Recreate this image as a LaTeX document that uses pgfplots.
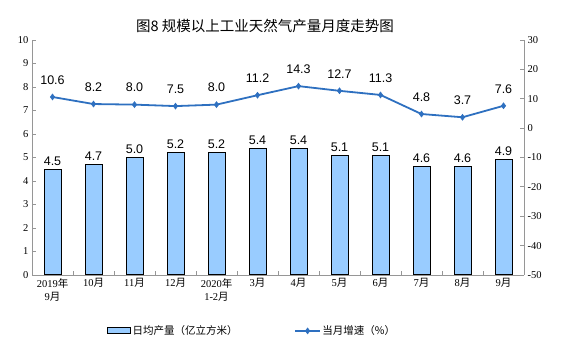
\documentclass[border=0pt]{standalone}
\usepackage{pgfplots}
\pgfplotsset{compat=1.18}
\usepackage{fontspec}
\setmainfont{Liberation Serif}
\newfontfamily\cjk{Noto Sans CJK SC}
\newfontfamily\arial{Liberation Sans}
\definecolor{barblue}{RGB}{153,204,255}
\definecolor{lineblue}{RGB}{46,112,192}
\definecolor{axgray}{RGB}{150,150,150}
\begin{document}
\begin{tikzpicture}
\useasboundingbox (0,0) rectangle (563pt,362pt);
\node[font=\cjk\fontsize{14.5}{16}\selectfont] at (265pt,336pt) {图8\ 规模以上工业天然气产量月度走势图};
\begin{axis}[
  at={(32pt,87pt)}, anchor=south west, scale only axis,
  width=492pt, height=235pt,
  xmin=-0.5, xmax=11.5, ymin=0, ymax=10,
  axis x line*=bottom, axis y line*=left,
  axis line style={axgray, line width=0.8pt},
  every tick/.style={axgray, line width=0.8pt},
  tick align=inside,
  ytick={0,1,...,10},
  xtick={0,...,11},
  major x tick style={draw=none},
  minor xtick={0.5,1.5,...,10.5},
  minor tick length=4pt, major tick length=4pt,
  xticklabels={{2019{\cjk 年}\\9{\cjk 月}},{10{\cjk 月}},{11{\cjk 月}},{12{\cjk 月}},{2020{\cjk 年}\\1-2{\cjk 月}},{3{\cjk 月}},{4{\cjk 月}},{5{\cjk 月}},{6{\cjk 月}},{7{\cjk 月}},{8{\cjk 月}},{9{\cjk 月}}},
  xticklabel style={align=center, font=\fontsize{10.5}{13}\selectfont},
  yticklabel style={font=\fontsize{10.5}{12}\selectfont},
  /pgf/number format/assume math mode=true,
]
\addplot[ybar, bar width=17pt, fill=barblue, draw=black, line width=1pt,
  nodes near coords,
  nodes near coords style={font=\arial\fontsize{12.5}{14}\selectfont, black, /pgf/number format/.cd, fixed, fixed zerofill, precision=1, assume math mode=true},
] coordinates {(0,4.5) (1,4.7) (2,5.0) (3,5.2) (4,5.2) (5,5.4) (6,5.4) (7,5.1) (8,5.1) (9,4.6) (10,4.6) (11,4.9)};
\end{axis}
\begin{axis}[
  at={(32pt,87pt)}, anchor=south west, scale only axis,
  width=492pt, height=235pt,
  xmin=-0.5, xmax=11.5, ymin=-50, ymax=30,
  axis y line*=right, axis x line=none,
  axis line style={axgray, line width=0.8pt},
  every tick/.style={axgray, line width=0.8pt},
  tick align=inside, major tick length=4pt,
  ytick={-50,-40,...,30},
  yticklabel style={font=\fontsize{10.5}{12}\selectfont},
  /pgf/number format/assume math mode=true,
  legend columns=2,
  legend style={draw=none, fill=none, at={(0.447,-0.238)}, anchor=center,
    font=\cjk\fontsize{10.5}{12}\selectfont,
    /tikz/every even column/.append style={column sep=55pt},
    nodes={inner sep=1.5pt}},
]
\addlegendimage{legend image code/.code={\draw[fill=barblue, draw=black, line width=1pt] (0pt,-3pt) rectangle (23pt,3pt);}}
\addlegendentry{日均产量（亿立方米）}
\addplot[lineblue, line width=1.8pt, mark=diamond*, mark size=3pt,
  mark options={fill=lineblue, draw=lineblue, line width=0.5pt},
  nodes near coords,
  nodes near coords style={font=\arial\fontsize{12.5}{14}\selectfont, black, yshift=9pt, /pgf/number format/.cd, fixed, fixed zerofill, precision=1, assume math mode=true},
  legend image code/.code={\draw[mark repeat=2, mark phase=2] plot coordinates {(0pt,0pt) (12.5pt,0pt) (25pt,0pt)};},
] coordinates {(0,10.6) (1,8.2) (2,8.0) (3,7.5) (4,8.0) (5,11.2) (6,14.3) (7,12.7) (8,11.3) (9,4.8) (10,3.7) (11,7.6)};
\addlegendentry{当月增速（\%）}
\end{axis}
\end{tikzpicture}
\end{document}
